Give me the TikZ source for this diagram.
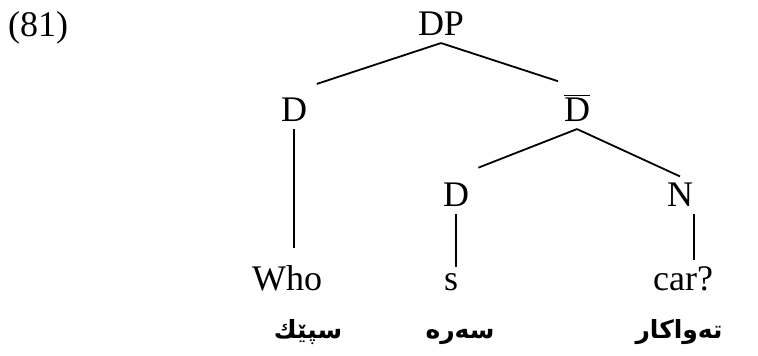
\documentclass[tikz,border=0pt]{standalone}
\usepackage{fontspec}
\setmainfont{Liberation Serif}
\newfontfamily\kurdfont[Script=Arabic]{DejaVu Sans}
\TeXXeTstate=1
\tikzset{
	word/.style  = {inner sep=0pt, outer ysep=3.5pt, anchor=base, font=\fontsize{18}{20}\selectfont},
	gloss/.style = {inner sep=0pt, anchor=base, font=\kurdfont\bfseries\fontsize{12.5}{14}\selectfont}
}
\begin{document}
\begin{tikzpicture}[x=0.5pt, y=-0.5pt, line width=0.9pt]
	\useasboundingbox (0,0) rectangle (758,356);
	\node (Num) at ( 38,  37)	[word]	{(81)};
	\node (DP)  at (441,  36)	[word]	{DP};
	\node (D1)  at (294, 122)	[word]	{D};
	\node (Db)  at (577, 122)	[word]	{$\overline{\mbox{D}}$};
	\node (D2)  at (456, 207)	[word]	{D};
	\node (N)   at (680, 207)	[word]	{N};
	\node (W)   at (287, 291)	[word]	{Who};
	\node (S)   at (451, 291)	[word]	{s};
	\node (C)   at (683, 291)	[word]	{car?};
	\node (K1)  at (308, 339)	[gloss]	{\beginR سپێك\endR};
	\node (K2)  at (460, 339)	[gloss]	{\beginR سەرە\endR};
	\node (K3)  at (679, 339)	[gloss]	{\beginR تەواکار\endR};
	\draw [shorten >=12pt] (DP.south) -- (D1.north);
	\draw [shorten >=10pt] (DP.south) -- (Db.north);
	\draw [shorten >=5.5pt] (D1.south) -- (D1.south |- W.north);
	\draw [shorten >=12pt] (Db.south) -- (D2.north);
	\draw (Db.south) -- (N.north);
	\draw (D2.south) -- (D2.south |- S.north);
	\draw (N.south east) -- (N.south east |- C.north);
\end{tikzpicture}
\end{document}
